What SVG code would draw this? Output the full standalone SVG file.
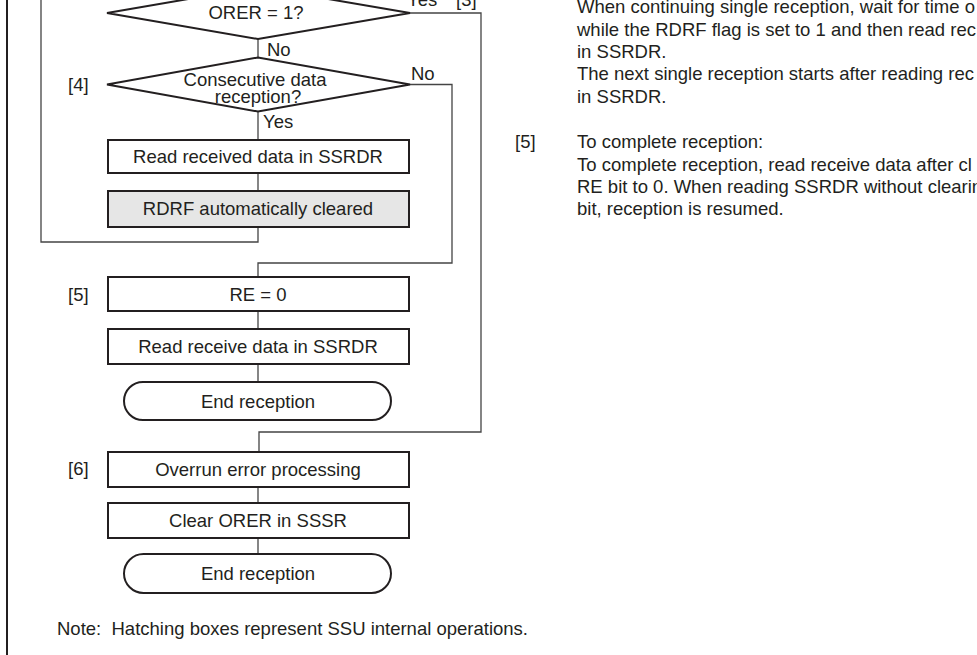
<svg xmlns="http://www.w3.org/2000/svg" width="977" height="655" viewBox="0 0 977 655">
<style>
text{font-family:"Liberation Sans",Arial,sans-serif;font-size:18.5px;fill:#231f20}
.c{text-anchor:middle}
.box{fill:#fff;stroke:#231f20;stroke-width:2}
.hat{fill:#e6e6e6;stroke:#231f20;stroke-width:2}
.conn{fill:none;stroke:#444;stroke-width:1.3}
</style>
<rect width="977" height="655" fill="#fff"/>
<line x1="7" y1="0" x2="7" y2="655" stroke="#231f20" stroke-width="2"/>
<g id="connectors">
<path class="conn" d="M258 39V58"/>
<path class="conn" d="M258 111V140"/>
<path class="conn" d="M258 173V191"/>
<path class="conn" d="M258 227V242H41V0"/>
<path class="conn" d="M410 84.5H452V263H258V277"/>
<path class="conn" d="M258 311V329"/>
<path class="conn" d="M258 364V382"/>
<path class="conn" d="M410 13H481V432H259V452"/>
<path class="conn" d="M258 487V503"/>
<path class="conn" d="M258 538V554"/>
<text x="407" y="6">Yes</text>
<text x="456" y="6">[3]</text>
<text x="267" y="56">No</text>
<text x="411" y="80">No</text>
<text x="263" y="128">Yes</text>
</g>
<g id="orer">
<polygon class="box" points="107,13 258,39 410,13 258,-13"/>
<text class="c" x="256" y="19">ORER = 1?</text>
</g>
<g id="consecutive">
<polygon class="box" points="107,84.5 258,57.5 410,84.5 258,111.5"/>
<text class="c" x="255" y="86.3">Consecutive data</text>
<text class="c" x="258" y="102.8">reception?</text>
<text x="68" y="91">[4]</text>
</g>
<g id="readrecv">
<rect class="box" x="108" y="140" width="301" height="33"/>
<text class="c" x="258" y="163.3">Read received data in SSRDR</text>
</g>
<g id="rdrf">
<rect class="hat" x="108" y="191" width="301" height="36"/>
<text class="c" x="258" y="215.3">RDRF automatically cleared</text>
</g>
<g id="re0">
<rect class="box" x="108" y="277" width="301" height="34"/>
<text class="c" x="258" y="300.6">RE = 0</text>
<text x="68" y="300.5">[5]</text>
</g>
<g id="readrecv2">
<rect class="box" x="108" y="329" width="301" height="35"/>
<text class="c" x="258" y="353">Read receive data in SSRDR</text>
</g>
<g id="end1">
<rect class="box" x="124" y="382" width="267" height="38" rx="19" ry="19"/>
<text class="c" x="258" y="407.6">End reception</text>
</g>
<g id="overrun">
<rect class="box" x="108" y="452" width="301" height="35"/>
<text class="c" x="258" y="476">Overrun error processing</text>
<text x="68" y="475">[6]</text>
</g>
<g id="clearorer">
<rect class="box" x="108" y="503" width="301" height="35"/>
<text class="c" x="258" y="527">Clear ORER in SSSR</text>
</g>
<g id="end2">
<rect class="box" x="124" y="554" width="267" height="39" rx="19.5" ry="19.5"/>
<text class="c" x="258" y="580">End reception</text>
</g>
<text x="57" y="635" xml:space="preserve">Note:  Hatching boxes represent SSU internal operations.</text>
<g id="notes">
<text x="577" y="13.3">When continuing single reception, wait for time o</text>
<text x="577" y="35.6">while the RDRF flag is set to 1 and then read rec</text>
<text x="577" y="58">in SSRDR.</text>
<text x="577" y="80.3">The next single reception starts after reading rec</text>
<text x="577" y="102.6">in SSRDR.</text>
<text x="515" y="148.3">[5]</text>
<text x="577" y="148.3">To complete reception:</text>
<text x="577" y="170.6">To complete reception, read receive data after cl</text>
<text x="577" y="193">RE bit to 0. When reading SSRDR without clearin</text>
<text x="577" y="215.3">bit, reception is resumed.</text>
</g>
</svg>
